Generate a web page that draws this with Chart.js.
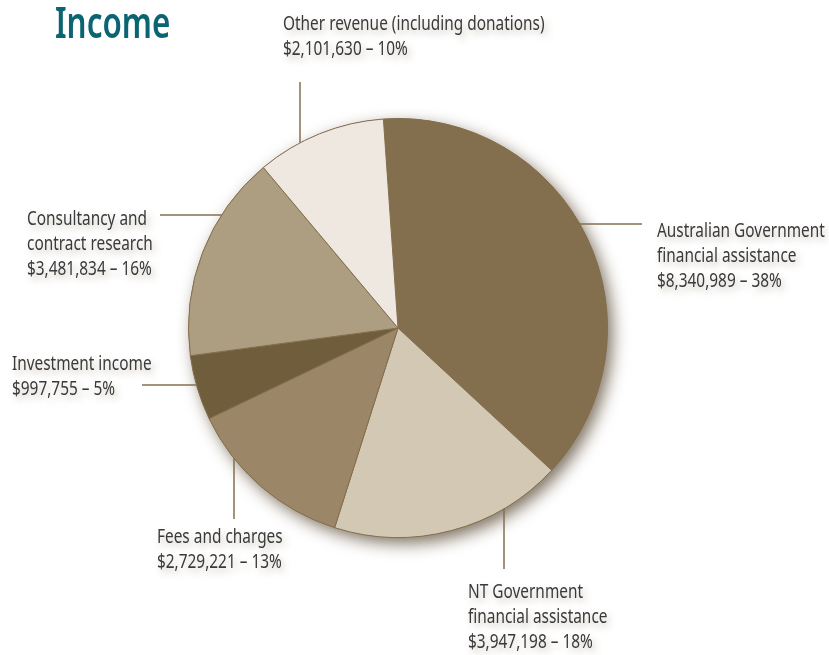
<!DOCTYPE html>
<html>
<head>
<meta charset="utf-8">
<title>Income</title>
<script src="https://cdn.jsdelivr.net/npm/chart.js@4.4.1/dist/chart.umd.min.js"></script>
<style>
  html, body { margin: 0; padding: 0; background: #fff; }
  canvas { display: block; }
</style>
</head>
<body>
<canvas id="incomeChart" width="829" height="655"></canvas>
<script>
// slices go clockwise from the top
const categories = [
    ['Australian Government', 'financial assistance'],
    ['NT Government', 'financial assistance'],
    ['Fees and charges'],
    ['Investment income'],
    ['Consultancy and', 'contract research'],
    ['Other revenue (including donations)']
];
const amounts = ['$8,340,989', '$3,947,198', '$2,729,221', '$997,755', '$3,481,834', '$2,101,630'];
const percents = [38, 18, 13, 5, 16, 10];
const sliceColors = ['#836f4e', '#d3c8b4', '#9b8668', '#6f5d3c', '#ae9e81', '#efe8e1'];

// where each label sits and how its leader line runs
const labelLayout = [
    { x: 657, y: 237, leader: { axis: 'h', at: 224, to: 642 } },
    { x: 468, y: 598, leader: { axis: 'v', at: 504, to: 569 } },
    { x: 157, y: 543, leader: { axis: 'v', at: 234, to: 519 } },
    { x: 12,  y: 370, leader: { axis: 'h', at: 385, to: 142 } },
    { x: 27,  y: 225, leader: { axis: 'h', at: 215, to: 160 } },
    { x: 283, y: 30,  leader: { axis: 'v', at: 300, to: 82 } }
];

const LINE_HEIGHT = 25;
const TEXT_FONT = '20px "Noto Sans"';
const TEXT_SCALE = 0.77;
const LINE_COLOR = '#836f4e';

const drawText = (ctx, text, x, y, sx) => {
    ctx.save();
    ctx.translate(x, y);
    ctx.scale(sx, 1);
    ctx.fillText(text, 0, 0);
    ctx.restore();
};

const pieShadow = {
    id: 'pieShadow',
    beforeDatasetsDraw(chart) {
        const arc = chart.getDatasetMeta(0).data[0];
        if (!arc) return;
        const ctx = chart.ctx;
        ctx.save();
        ctx.shadowColor = 'rgba(60, 42, 15, 0.65)';
        ctx.shadowBlur = 16;
        ctx.shadowOffsetX = 5;
        ctx.shadowOffsetY = 6;
        ctx.fillStyle = LINE_COLOR;
        ctx.beginPath();
        ctx.arc(arc.x, arc.y, arc.outerRadius, 0, Math.PI * 2);
        ctx.fill();
        ctx.restore();
    }
};

const calloutLabels = {
    id: 'calloutLabels',
    afterDatasetsDraw(chart) {
        const arc = chart.getDatasetMeta(0).data[0];
        if (!arc) return;
        const ctx = chart.ctx;
        const cx = arc.x, cy = arc.y, r = arc.outerRadius;

        // title
        ctx.save();
        ctx.fillStyle = '#0b6472';
        ctx.font = '600 43px "Noto Sans"';
        ctx.textBaseline = 'alphabetic';
        drawText(ctx, 'Income', 55, 38, 0.73);
        ctx.restore();

        labelLayout.forEach((lay, i) => {
            const ld = lay.leader;
            let x0, y0, x1, y1;
            if (ld.axis === 'h') {
                const dy = ld.at - cy;
                const dx = Math.sqrt(Math.max(r * r - dy * dy, 0));
                x0 = ld.to > cx ? cx + dx : cx - dx;
                y0 = ld.at; x1 = ld.to; y1 = ld.at;
            } else {
                const dx = ld.at - cx;
                const dy = Math.sqrt(Math.max(r * r - dx * dx, 0));
                y0 = ld.to > cy ? cy + dy : cy - dy;
                x0 = ld.at; x1 = ld.at; y1 = ld.to;
            }
            ctx.save();
            ctx.strokeStyle = LINE_COLOR;
            ctx.lineWidth = 1.5;
            ctx.beginPath();
            ctx.moveTo(x0, y0);
            ctx.lineTo(x1, y1);
            ctx.stroke();
            ctx.restore();

            const lines = categories[i].concat([amounts[i] + ' \u2013 ' + percents[i] + '%']);
            ctx.save();
            ctx.font = TEXT_FONT;
            ctx.fillStyle = '#3a3a3a';
            ctx.textBaseline = 'alphabetic';
            ctx.shadowColor = 'rgba(110, 90, 60, 0.35)';
            ctx.shadowBlur = 7;
            ctx.shadowOffsetX = 3;
            ctx.shadowOffsetY = 4;
            lines.forEach((line, j) => {
                drawText(ctx, line, lay.x, lay.y + j * LINE_HEIGHT, TEXT_SCALE);
            });
            ctx.restore();
        });
    }
};

const setupIncomeChart = () => {
    const ctx = document.getElementById('incomeChart')?.getContext('2d');
    if (!ctx) return;

    new Chart(ctx, {
        type: 'pie',
        data: {
            labels: categories.map(c => c.join(' ')),
            datasets: [{
                data: percents,
                backgroundColor: sliceColors,
                borderColor: LINE_COLOR,
                borderWidth: 1,
                hoverOffset: 0
            }]
        },
        options: {
            responsive: false,
            animation: false,
            rotation: -4,
            layout: {
                padding: { left: 188, right: 221, top: 118, bottom: 117 }
            },
            plugins: {
                legend: { display: false },
                tooltip: { enabled: false }
            }
        },
        plugins: [pieShadow, calloutLabels]
    });
};

document.addEventListener('DOMContentLoaded', setupIncomeChart);
</script>
</body>
</html>
